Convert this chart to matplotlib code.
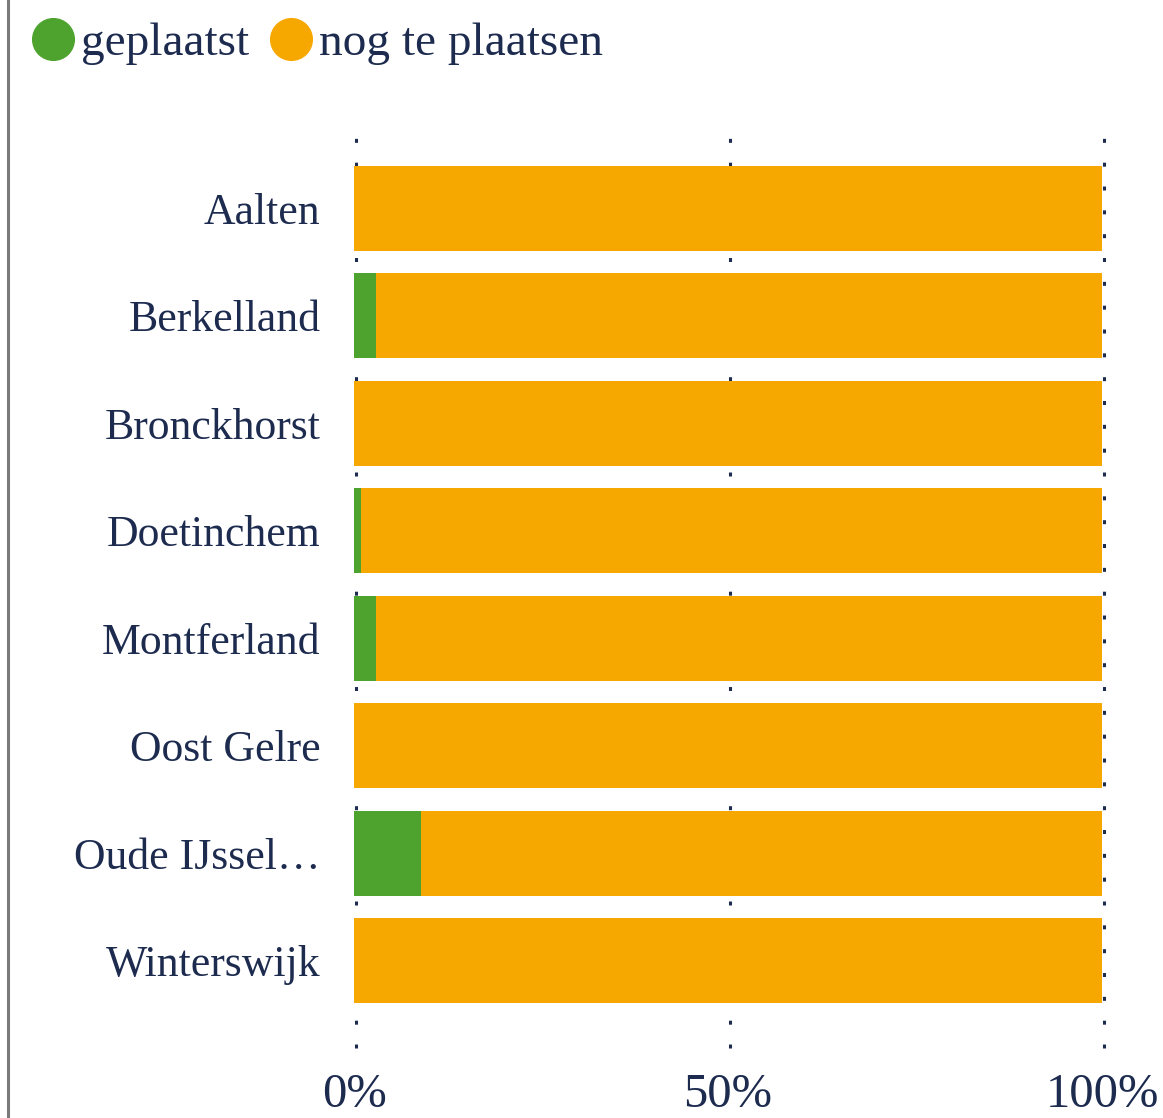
import numpy as np
import matplotlib
matplotlib.use("Agg")
import matplotlib.pyplot as plt
from matplotlib.lines import Line2D

gemeenten = ["Aalten", "Berkelland", "Bronckhorst", "Doetinchem",
             "Montferland", "Oost Gelre", "Oude IJssel\u2026", "Winterswijk"]
geplaatst = [0.0, 2.9, 0.0, 0.9, 2.9, 0.0, 9.0, 0.0]
nog_te_plaatsen = [100 - g for g in geplaatst]
xticks = [0, 50, 100]
xticklabels = ["0%", "50%", "100%"]

green = "#4ea32f"
orange = "#f6a800"
navy = "#1d2b4f"

plt.rcParams["font.family"] = ["Liberation Serif", "DejaVu Serif"]

fig = plt.figure(figsize=(11.63, 11.18), dpi=100)
ax = fig.add_axes([0.3044, 0.0626, 0.6431, 0.8202])

y = np.arange(len(gemeenten))
ax.barh(y, geplaatst, height=0.79, color=green, zorder=2)
ax.barh(y, nog_te_plaatsen, left=geplaatst, height=0.79, color=orange, zorder=2)

# dotted grid, sits a hair right of the tick value
for xv in xticks:
    ax.axvline(xv + 0.27, color=navy, lw=2.2, linestyle=(0, (1.3, 6.5)),
               dash_capstyle="butt", zorder=1, clip_on=False)

ax.set_xlim(0, 100)
ax.set_ylim(7.81, -0.72)
ax.set_yticks(y)
ax.set_yticklabels(gemeenten, fontsize=31.5, color=navy)
ax.set_xticks(xticks)
ax.set_xticklabels(xticklabels, fontsize=35, color=navy)
ax.tick_params(axis="both", length=0)
ax.tick_params(axis="y", pad=24)
ax.tick_params(axis="x", pad=18)
for s in ax.spines.values():
    s.set_visible(False)

# gray line on the left edge
fig.add_artist(Line2D([0.0069, 0.0069], [0, 1], color="#7a7a7a", lw=2.2,
                      transform=fig.transFigure))

handles = [Line2D([], [], marker="o", ls="", markersize=30, color=green),
           Line2D([], [], marker="o", ls="", markersize=30, color=orange)]
fig.legend(handles, ["geplaatst", "nog te plaatsen"], loc="upper left",
           bbox_to_anchor=(-0.0135, 1.018), ncol=2, frameon=False,
           fontsize=34, labelcolor=navy, handletextpad=0.05,
           columnspacing=0.33, handlelength=1.1)

fig.savefig("out.png", dpi=100)
